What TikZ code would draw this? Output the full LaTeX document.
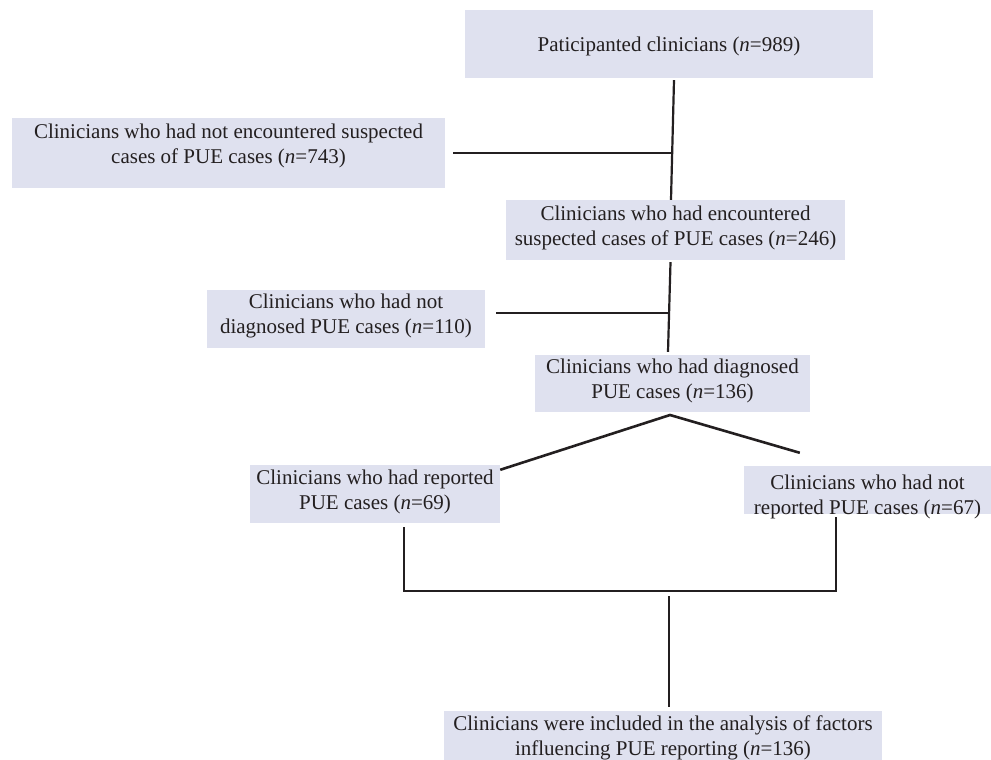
\documentclass[tikz,border=0pt]{standalone}
\usepackage{fontspec}
\setmainfont{Liberation Serif}
\usetikzlibrary{calc}
\definecolor{boxc}{RGB}{223,225,239}
\definecolor{ink}{RGB}{35,31,32}
\newcommand{\twol}[2]{\begin{tabular}[t]{@{}c@{}}#1\\#2\end{tabular}}
\begin{document}
\begin{tikzpicture}[x=1pt,y=-1pt,
  box/.style={fill=boxc, inner sep=0pt, text=ink,
    font=\fontsize{21pt}{25pt}\selectfont},
  conn/.style={draw=ink, line width=2.2pt},
  stub/.style={draw=ink, line width=1.3pt},
  heavy/.style={draw=ink, line width=2.6pt, line join=miter}]
\fill[white] (0,0) rectangle (991,760);
\useasboundingbox (0,0) rectangle (991,760);

\node[box, minimum width=408pt, minimum height=68pt, text height=42pt, text depth=26pt]
  (b1) at (669,44) {Paticipanted clinicians (\textit{n}=989)};
\node[box, minimum width=433pt, minimum height=70pt, text height=20pt, text depth=50pt]
  (b743) at (228.5,153) {\twol{Clinicians who had not encountered suspected}{cases of PUE cases (\textit{n}=743)}};
\node[box, minimum width=339pt, minimum height=60pt, text height=20pt, text depth=40pt]
  (b246) at (675.5,230) {\twol{Clinicians who had encountered}{suspected cases of PUE cases (\textit{n}=246)}};
\node[box, minimum width=278pt, minimum height=58pt, text height=18pt, text depth=40pt]
  (b110) at (346,319) {\twol{Clinicians who had not}{diagnosed PUE cases (\textit{n}=110)}};
\node[box, minimum width=275pt, minimum height=57pt, text height=18pt, text depth=39pt]
  (b136) at (672.5,383.5) {\twol{Clinicians who had diagnosed}{PUE cases (\textit{n}=136)}};
\node[box, minimum width=250pt, minimum height=58pt, text height=19pt, text depth=39pt]
  (b69) at (375,494) {\twol{Clinicians who had reported}{PUE cases (\textit{n}=69)}};
\node[box, minimum width=247pt, minimum height=48pt, text height=23pt, text depth=25pt]
  (b67) at (867.5,490) {\twol{Clinicians who had not}{reported PUE cases (\textit{n}=67)}};
\node[box, minimum width=438pt, minimum height=49pt, text height=19pt, text depth=30pt]
  (bfin) at (663,735.5) {\twol{Clinicians were included in the analysis of factors}{influencing PUE reporting (\textit{n}=136)}};

\coordinate (j1) at (672.2,153);
\coordinate (j2) at (669,313);
\coordinate (apex) at (670,415);
\coordinate (m) at (669,591);

\draw[conn] ([xshift=5pt,yshift=-2pt]b1.south) -- ([xshift=-4.5pt]b246.north);
\draw[stub] ([xshift=8pt]b743.east) -- (j1);
\draw[conn] ([xshift=-5pt,yshift=-2pt]b246.south) -- ([xshift=-4.5pt,yshift=3pt]b136.north);
\draw[stub] ([xshift=11pt,yshift=6pt]b110.east) -- (j2);
\draw[heavy] ([yshift=-5pt]b69.north east) -- (apex) -- ([xshift=56pt,yshift=13pt]b67.north west);
\draw[heavy] ([xshift=29pt,yshift=-4pt]b69.south) |- (m) -| ([xshift=-31.5pt,yshift=-3pt]b67.south);
\draw[conn] ([yshift=-5pt]m) -- ([xshift=6pt,yshift=4pt]bfin.north);
\end{tikzpicture}
\end{document}
